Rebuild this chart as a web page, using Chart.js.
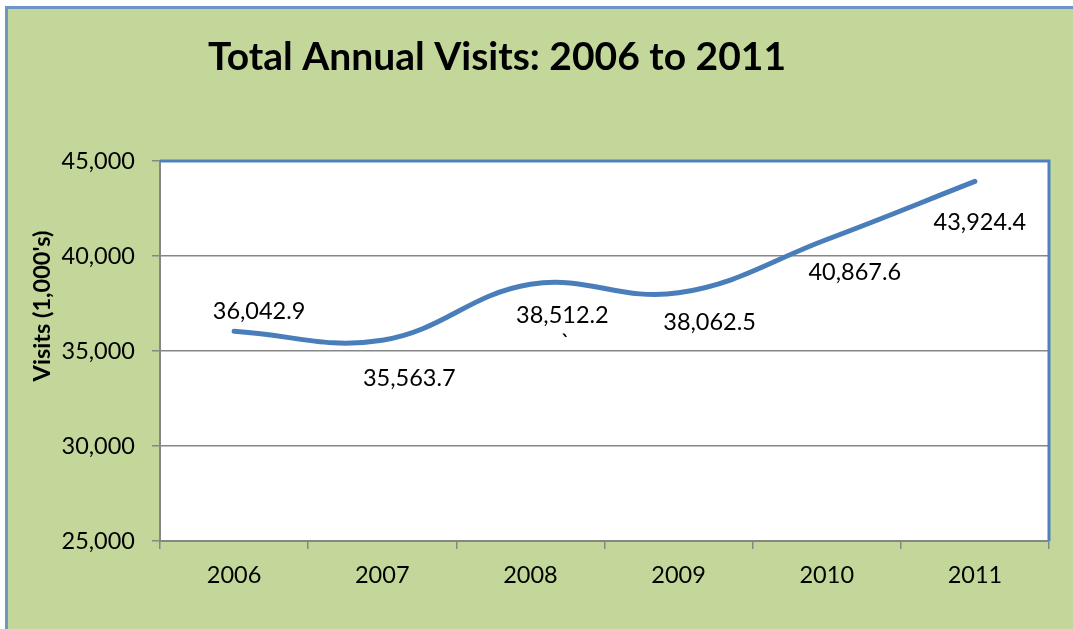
<!DOCTYPE html>
<html>
<head>
<meta charset="utf-8">
<script src="https://cdn.jsdelivr.net/npm/chart.js@4/dist/chart.umd.min.js"></script>
<style>
html,body{margin:0;padding:0;background:#fff;}
#wrap{width:1073px;height:629px;position:relative;}
</style>
</head>
<body>
<div id="wrap"><canvas id="c" width="1073" height="629"></canvas></div>
<script>
const categories = ['2006', '2007', '2008', '2009', '2010', '2011'];
const visits = [36042.9, 35563.7, 38512.2, 38062.5, 40867.6, 43924.4];
const pointLabels = ['36,042.9', '35,563.7', ['38,512.2', '`'], '38,062.5', '40,867.6', '43,924.4'];
const yTicks = [25000, 30000, 35000, 40000, 45000];
const chartTitle = 'Total Annual Visits: 2006 to 2011';
const yAxisTitle = "Visits (1,000's)";

const FONT = 'Lato, "Open Sans", sans-serif';
const labelOffsets = [[25, -20], [27, 38], [32, 31], [31, 30], [28, 33], [5, 41]];

const bgPlugin = {
  id: 'bg',
  beforeDraw(chart) {
    const ctx = chart.ctx;
    ctx.save();
    ctx.fillStyle = '#ffffff';
    ctx.fillRect(0, 0, chart.width, chart.height);
    ctx.fillStyle = '#c4d79b';
    ctx.fillRect(6, 7, chart.width, chart.height);
    ctx.strokeStyle = '#6f95c6';
    ctx.lineWidth = 3;
    ctx.beginPath();
    ctx.moveTo(6.5, chart.height);
    ctx.lineTo(6.5, 7.5);
    ctx.lineTo(chart.width, 7.5);
    ctx.stroke();
    const a = chart.chartArea;
    ctx.fillStyle = '#ffffff';
    ctx.fillRect(a.left, a.top, a.right - a.left, a.bottom - a.top);
    // titles
    ctx.fillStyle = '#000';
    ctx.textAlign = 'center';
    ctx.textBaseline = 'middle';
    ctx.font = 'bold 39px ' + FONT;
    ctx.fillText(chartTitle, 497, 57);
    ctx.translate(42, 306);
    ctx.rotate(-Math.PI / 2);
    ctx.font = 'bold 23.5px ' + FONT;
    ctx.fillText(yAxisTitle, 0, 0);
    ctx.restore();
  },
  afterDatasetsDraw(chart) {
    const ctx = chart.ctx;
    const a = chart.chartArea;
    ctx.save();
    ctx.strokeStyle = '#4f81bd';
    ctx.lineWidth = 3;
    ctx.beginPath();
    ctx.moveTo(a.left, a.top);
    ctx.lineTo(a.right, a.top);
    ctx.lineTo(a.right, a.bottom);
    ctx.stroke();
    // data labels
    const meta = chart.getDatasetMeta(0);
    ctx.fillStyle = '#000';
    ctx.font = '23.5px ' + FONT;
    ctx.textAlign = 'center';
    ctx.textBaseline = 'middle';
    meta.data.forEach((pt, i) => {
      const lab = pointLabels[i];
      const off = labelOffsets[i];
      const lines = Array.isArray(lab) ? lab : [lab];
      lines.forEach((t, j) => {
        ctx.fillText(t, pt.x + off[0] + (j ? 3 : 0), pt.y + off[1] + j * 28);
      });
    });
    ctx.restore();
  }
};

new Chart(document.getElementById('c'), {
  type: 'line',
  data: {
    labels: categories,
    datasets: [{
      data: visits,
      borderColor: '#4a7ebb',
      borderWidth: 5,
      tension: 0.4,
      pointRadius: 0,
      borderCapStyle: 'round',
      fill: false
    }]
  },
  options: {
    responsive: false,
    animation: false,
    layout: { padding: { left: 0, right: 24, top: 161, bottom: 0 } },
    plugins: {
      legend: { display: false },
      tooltip: { enabled: false },
      title: { display: false }
    },
    scales: {
      x: {
        offset: true,
        grid: {
          offset: true,
          drawOnChartArea: false,
          drawTicks: true,
          tickLength: 8,
          color: '#868686',
          lineWidth: 1.5
        },
        border: { color: '#868686', width: 2 },
        ticks: { color: '#000', font: { family: FONT, size: 23.5 }, padding: 12 },
        afterFit(s) { s.height = 88; }
      },
      y: {
        min: 25000,
        max: 45000,
        afterBuildTicks(s) { s.ticks = yTicks.map(v => ({ value: v })); },
        grid: {
          color: '#868686',
          lineWidth: 1.5,
          tickLength: 8
        },
        border: { color: '#868686', width: 2 },
        ticks: {
          color: '#000',
          font: { family: FONT, size: 23.5 },
          padding: 17,
          callback: v => v.toLocaleString('en-US')
        },
        afterFit(s) { s.width = 160; }
      }
    }
  },
  plugins: [bgPlugin]
});
</script>
</body>
</html>
